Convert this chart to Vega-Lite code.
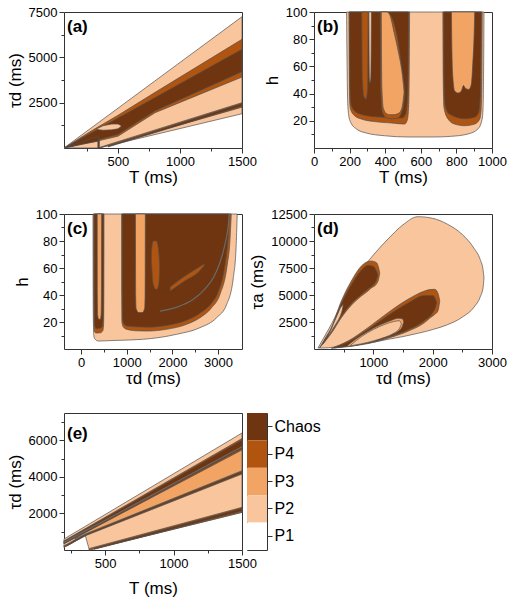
{
"$schema": "https://vega.github.io/schema/vega-lite/v6.json",
"padding": {"left": 5, "top": 5, "right": 5, "bottom": 3},
"config": {
 "font": "Liberation Sans",
 "view": {"stroke": "#333333", "strokeWidth": 1},
 "axis": {"labelFont": "Liberation Sans", "labelFontSize": 13, "labelColor": "#000000", "titleFont": "Liberation Sans", "titleFontSize": 17, "titleFontWeight": "normal", "titleColor": "#000000", "domain": false, "grid": false, "tickColor": "#333333", "labelFlush": false, "labelOverlap": false, "labelPadding": 2},
 "axisX": {"titlePadding": 1},
 "axisY": {"titlePadding": 4},
 "title": {"font": "Liberation Sans", "fontSize": 17, "fontWeight": "bold", "color": "#000000", "anchor": "start", "frame": "group", "offset": -30, "dx": 3}
},
"datasets": {
 "A": [
  {"r":"a01","c":"P2","x":65,"lo":0,"hi":0},{"r":"a01","c":"P2","x":345,"lo":0,"hi":1413},{"r":"a01","c":"P2","x":1500,"lo":1890,"hi":7240},
  {"r":"a02","c":"P4","x":65,"lo":0,"hi":0},{"r":"a02","c":"P4","x":300,"lo":330,"hi":1000},{"r":"a02","c":"P4","x":500,"lo":650,"hi":1800},{"r":"a02","c":"P4","x":800,"lo":1950,"hi":3070},{"r":"a02","c":"P4","x":1500,"lo":3915,"hi":5994},
  {"r":"a03","c":"Chaos","x":65,"lo":0,"hi":0},{"r":"a03","c":"Chaos","x":300,"lo":380,"hi":891},{"r":"a03","c":"Chaos","x":500,"lo":750,"hi":1650},{"r":"a03","c":"Chaos","x":800,"lo":2050,"hi":2788},{"r":"a03","c":"Chaos","x":1500,"lo":4209,"hi":5443},
  {"r":"a04","c":"P4","x":350,"lo":0,"hi":30},{"r":"a04","c":"P4","x":1500,"lo":2250,"hi":2500},
  {"r":"a05","c":"Chaos","x":420,"lo":60,"hi":110},{"r":"a05","c":"Chaos","x":1500,"lo":2310,"hi":2450},
  {"r":"a06","c":"P2","x":330,"lo":1020,"hi":1060},{"r":"a06","c":"P2","x":380,"lo":980,"hi":1230},{"r":"a06","c":"P2","x":450,"lo":1000,"hi":1320},{"r":"a06","c":"P2","x":500,"lo":1060,"hi":1320},{"r":"a06","c":"P2","x":525,"lo":1180,"hi":1240},
  {"r":"a07","c":"Chaos","x":110,"lo":60,"hi":110},{"r":"a07","c":"Chaos","x":200,"lo":200,"hi":330},{"r":"a07","c":"Chaos","x":300,"lo":330,"hi":560},{"r":"a07","c":"Chaos","x":345,"lo":380,"hi":640},
  {"r":"a08","c":"Chaos","x":338,"lo":0,"hi":420},{"r":"a08","c":"Chaos","x":350,"lo":0,"hi":420}
 ],
 "B": [
  {"r":"b01","c":"P2","x":183,"lo":100,"hi":100},{"r":"b01","c":"P2","x":186,"lo":60,"hi":100},{"r":"b01","c":"P2","x":189,"lo":35,"hi":100},{"r":"b01","c":"P2","x":195,"lo":24,"hi":100},{"r":"b01","c":"P2","x":206,"lo":18.9,"hi":100},{"r":"b01","c":"P2","x":238,"lo":14,"hi":100},{"r":"b01","c":"P2","x":294,"lo":11,"hi":100},{"r":"b01","c":"P2","x":397,"lo":9,"hi":100},{"r":"b01","c":"P2","x":528,"lo":8.1,"hi":100},{"r":"b01","c":"P2","x":678,"lo":8.1,"hi":100},{"r":"b01","c":"P2","x":772,"lo":8.6,"hi":100},{"r":"b01","c":"P2","x":865,"lo":10.3,"hi":100},{"r":"b01","c":"P2","x":921,"lo":14,"hi":100},{"r":"b01","c":"P2","x":944,"lo":21,"hi":100},{"r":"b01","c":"P2","x":950,"lo":30,"hi":100},{"r":"b01","c":"P2","x":953,"lo":60,"hi":100},{"r":"b01","c":"P2","x":955,"lo":100,"hi":100},
  {"r":"b02","c":"P4","x":196,"lo":100,"hi":100},{"r":"b02","c":"P4","x":198,"lo":60,"hi":100},{"r":"b02","c":"P4","x":200,"lo":35,"hi":100},{"r":"b02","c":"P4","x":205,"lo":28.7,"hi":100},{"r":"b02","c":"P4","x":228,"lo":23.8,"hi":100},{"r":"b02","c":"P4","x":266,"lo":21.3,"hi":100},{"r":"b02","c":"P4","x":341,"lo":19.4,"hi":100},{"r":"b02","c":"P4","x":434,"lo":18.4,"hi":100},{"r":"b02","c":"P4","x":509,"lo":17.6,"hi":100},{"r":"b02","c":"P4","x":525,"lo":21,"hi":100},{"r":"b02","c":"P4","x":533,"lo":35,"hi":100},{"r":"b02","c":"P4","x":537,"lo":100,"hi":100},
  {"r":"b03","c":"Chaos","x":200,"lo":100,"hi":100},{"r":"b03","c":"Chaos","x":202,"lo":45,"hi":100},{"r":"b03","c":"Chaos","x":208,"lo":32,"hi":100},{"r":"b03","c":"Chaos","x":230,"lo":27,"hi":100},{"r":"b03","c":"Chaos","x":270,"lo":24.5,"hi":100},{"r":"b03","c":"Chaos","x":341,"lo":23,"hi":100},{"r":"b03","c":"Chaos","x":434,"lo":22.3,"hi":100},{"r":"b03","c":"Chaos","x":495,"lo":22,"hi":100},{"r":"b03","c":"Chaos","x":515,"lo":25,"hi":100},{"r":"b03","c":"Chaos","x":527,"lo":40,"hi":100},{"r":"b03","c":"Chaos","x":531,"lo":100,"hi":100},
  {"r":"b04","c":"P4","x":268,"lo":100,"hi":100},{"r":"b04","c":"P4","x":272,"lo":50,"hi":100},{"r":"b04","c":"P4","x":280,"lo":38,"hi":100},{"r":"b04","c":"P4","x":292,"lo":36,"hi":100},{"r":"b04","c":"P4","x":302,"lo":45,"hi":100},{"r":"b04","c":"P4","x":304,"lo":100,"hi":100},
  {"r":"b05","c":"P2","x":308,"lo":100,"hi":100},{"r":"b05","c":"P2","x":311,"lo":52,"hi":100},{"r":"b05","c":"P2","x":315,"lo":48,"hi":100},{"r":"b05","c":"P2","x":319,"lo":52,"hi":100},{"r":"b05","c":"P2","x":323,"lo":100,"hi":100},
  {"r":"b06","c":"P4","x":372,"lo":100,"hi":100},{"r":"b06","c":"P4","x":376,"lo":40,"hi":100},{"r":"b06","c":"P4","x":385,"lo":26,"hi":100},{"r":"b06","c":"P4","x":410,"lo":22,"hi":100},{"r":"b06","c":"P4","x":440,"lo":21.5,"hi":95},{"r":"b06","c":"P4","x":470,"lo":22,"hi":80},{"r":"b06","c":"P4","x":492,"lo":26,"hi":60},{"r":"b06","c":"P4","x":505,"lo":33,"hi":48},{"r":"b06","c":"P4","x":510,"lo":40,"hi":42},
  {"r":"b07","c":"P3","x":378,"lo":100,"hi":100},{"r":"b07","c":"P3","x":381,"lo":45,"hi":100},{"r":"b07","c":"P3","x":390,"lo":29,"hi":100},{"r":"b07","c":"P3","x":410,"lo":25,"hi":100},{"r":"b07","c":"P3","x":425,"lo":24.5,"hi":98},{"r":"b07","c":"P3","x":450,"lo":24.5,"hi":85},{"r":"b07","c":"P3","x":475,"lo":25.5,"hi":70},{"r":"b07","c":"P3","x":493,"lo":29,"hi":57},{"r":"b07","c":"P3","x":502,"lo":36,"hi":47},{"r":"b07","c":"P3","x":506,"lo":41,"hi":41},
  {"r":"b08","c":"P4","x":724,"lo":100,"hi":100},{"r":"b08","c":"P4","x":726,"lo":50,"hi":100},{"r":"b08","c":"P4","x":730,"lo":30,"hi":100},{"r":"b08","c":"P4","x":753,"lo":21.3,"hi":100},{"r":"b08","c":"P4","x":790,"lo":17.6,"hi":100},{"r":"b08","c":"P4","x":846,"lo":16.4,"hi":100},{"r":"b08","c":"P4","x":903,"lo":17.6,"hi":100},{"r":"b08","c":"P4","x":931,"lo":21.3,"hi":100},{"r":"b08","c":"P4","x":940,"lo":30,"hi":100},{"r":"b08","c":"P4","x":943,"lo":50,"hi":100},{"r":"b08","c":"P4","x":945,"lo":100,"hi":100},
  {"r":"b09","c":"Chaos","x":729,"lo":100,"hi":100},{"r":"b09","c":"Chaos","x":731,"lo":45,"hi":100},{"r":"b09","c":"Chaos","x":737,"lo":31,"hi":100},{"r":"b09","c":"Chaos","x":760,"lo":25,"hi":100},{"r":"b09","c":"Chaos","x":846,"lo":21.5,"hi":100},{"r":"b09","c":"Chaos","x":900,"lo":22.5,"hi":100},{"r":"b09","c":"Chaos","x":925,"lo":26,"hi":100},{"r":"b09","c":"Chaos","x":935,"lo":40,"hi":100},{"r":"b09","c":"Chaos","x":939,"lo":100,"hi":100},
  {"r":"b10","c":"P3","x":772,"lo":100,"hi":100},{"r":"b10","c":"P3","x":775,"lo":70,"hi":100},{"r":"b10","c":"P3","x":780,"lo":52,"hi":100},{"r":"b10","c":"P3","x":790,"lo":42,"hi":100},{"r":"b10","c":"P3","x":810,"lo":40.5,"hi":100},{"r":"b10","c":"P3","x":828,"lo":42,"hi":100},{"r":"b10","c":"P3","x":840,"lo":46,"hi":100},{"r":"b10","c":"P3","x":850,"lo":44,"hi":100},{"r":"b10","c":"P3","x":870,"lo":43,"hi":100},{"r":"b10","c":"P3","x":884,"lo":47,"hi":100},{"r":"b10","c":"P3","x":892,"lo":62,"hi":100},{"r":"b10","c":"P3","x":900,"lo":85,"hi":100},{"r":"b10","c":"P3","x":903,"lo":100,"hi":100}
 ],
 "C": [
  {"r":"c01","c":"P2","x":260,"lo":100,"hi":100},{"r":"c01","c":"P2","x":262,"lo":60,"hi":100},{"r":"c01","c":"P2","x":265,"lo":30,"hi":100},{"r":"c01","c":"P2","x":270,"lo":18,"hi":100},{"r":"c01","c":"P2","x":278,"lo":10,"hi":100},{"r":"c01","c":"P2","x":300,"lo":7.5,"hi":100},{"r":"c01","c":"P2","x":377,"lo":5.9,"hi":100},{"r":"c01","c":"P2","x":700,"lo":6.3,"hi":100},{"r":"c01","c":"P2","x":1363,"lo":7.2,"hi":100},{"r":"c01","c":"P2","x":2094,"lo":10.9,"hi":100},{"r":"c01","c":"P2","x":2605,"lo":15.8,"hi":100},{"r":"c01","c":"P2","x":2970,"lo":23.2,"hi":100},{"r":"c01","c":"P2","x":3189,"lo":33,"hi":100},{"r":"c01","c":"P2","x":3335,"lo":52.8,"hi":100},{"r":"c01","c":"P2","x":3395,"lo":75,"hi":100},{"r":"c01","c":"P2","x":3420,"lo":100,"hi":100},
  {"r":"c02","c":"P4","x":275,"lo":100,"hi":100},{"r":"c02","c":"P4","x":277,"lo":40,"hi":100},{"r":"c02","c":"P4","x":281,"lo":18,"hi":100},{"r":"c02","c":"P4","x":292,"lo":13,"hi":100},{"r":"c02","c":"P4","x":330,"lo":11.8,"hi":100},{"r":"c02","c":"P4","x":420,"lo":12,"hi":100},{"r":"c02","c":"P4","x":475,"lo":13.5,"hi":100},{"r":"c02","c":"P4","x":492,"lo":18,"hi":100},{"r":"c02","c":"P4","x":498,"lo":40,"hi":100},{"r":"c02","c":"P4","x":501,"lo":100,"hi":100},
  {"r":"c03","c":"Chaos","x":286,"lo":100,"hi":100},{"r":"c03","c":"Chaos","x":288,"lo":35,"hi":100},{"r":"c03","c":"Chaos","x":295,"lo":18,"hi":100},{"r":"c03","c":"Chaos","x":330,"lo":15,"hi":100},{"r":"c03","c":"Chaos","x":430,"lo":15.5,"hi":100},{"r":"c03","c":"Chaos","x":468,"lo":17,"hi":100},{"r":"c03","c":"Chaos","x":485,"lo":26,"hi":100},{"r":"c03","c":"Chaos","x":490,"lo":100,"hi":100},
  {"r":"c04","c":"P3","x":352,"lo":100,"hi":100},{"r":"c04","c":"P3","x":355,"lo":40,"hi":100},{"r":"c04","c":"P3","x":362,"lo":25,"hi":100},{"r":"c04","c":"P3","x":385,"lo":22,"hi":100},{"r":"c04","c":"P3","x":420,"lo":22,"hi":100},{"r":"c04","c":"P3","x":438,"lo":25,"hi":100},{"r":"c04","c":"P3","x":446,"lo":40,"hi":100},{"r":"c04","c":"P3","x":450,"lo":100,"hi":100},
  {"r":"c05","c":"P4","x":888,"lo":100,"hi":100},{"r":"c05","c":"P4","x":890,"lo":40,"hi":100},{"r":"c05","c":"P4","x":895,"lo":20,"hi":100},{"r":"c05","c":"P4","x":920,"lo":16.5,"hi":100},{"r":"c05","c":"P4","x":998,"lo":14.6,"hi":100},{"r":"c05","c":"P4","x":1200,"lo":13.5,"hi":100},{"r":"c05","c":"P4","x":1436,"lo":13.3,"hi":100},{"r":"c05","c":"P4","x":1874,"lo":14.6,"hi":100},{"r":"c05","c":"P4","x":2313,"lo":18.3,"hi":100},{"r":"c05","c":"P4","x":2605,"lo":23.2,"hi":100},{"r":"c05","c":"P4","x":2860,"lo":30.6,"hi":100},{"r":"c05","c":"P4","x":3043,"lo":40.5,"hi":100},{"r":"c05","c":"P4","x":3200,"lo":62,"hi":100},{"r":"c05","c":"P4","x":3260,"lo":80,"hi":100},{"r":"c05","c":"P4","x":3290,"lo":100,"hi":100},
  {"r":"c06","c":"Chaos","x":900,"lo":100,"hi":100},{"r":"c06","c":"Chaos","x":903,"lo":40,"hi":100},{"r":"c06","c":"Chaos","x":910,"lo":22,"hi":100},{"r":"c06","c":"Chaos","x":940,"lo":18.5,"hi":100},{"r":"c06","c":"Chaos","x":1000,"lo":17,"hi":100},{"r":"c06","c":"Chaos","x":1436,"lo":16.2,"hi":100},{"r":"c06","c":"Chaos","x":1874,"lo":17.5,"hi":100},{"r":"c06","c":"Chaos","x":2313,"lo":21.3,"hi":100},{"r":"c06","c":"Chaos","x":2605,"lo":26.5,"hi":100},{"r":"c06","c":"Chaos","x":2860,"lo":34,"hi":100},{"r":"c06","c":"Chaos","x":3000,"lo":42,"hi":100},{"r":"c06","c":"Chaos","x":3150,"lo":62,"hi":100},{"r":"c06","c":"Chaos","x":3220,"lo":82,"hi":100},{"r":"c06","c":"Chaos","x":3255,"lo":100,"hi":100},
  {"r":"c07","c":"P3","x":1190,"lo":100,"hi":100},{"r":"c07","c":"P3","x":1195,"lo":40,"hi":100},{"r":"c07","c":"P3","x":1205,"lo":30,"hi":100},{"r":"c07","c":"P3","x":1260,"lo":27,"hi":100},{"r":"c07","c":"P3","x":1340,"lo":27,"hi":100},{"r":"c07","c":"P3","x":1392,"lo":30,"hi":100},{"r":"c07","c":"P3","x":1402,"lo":40,"hi":100},{"r":"c07","c":"P3","x":1407,"lo":100,"hi":100},
  {"r":"c08","c":"P4","x":1540,"lo":65,"hi":72},{"r":"c08","c":"P4","x":1580,"lo":48,"hi":80},{"r":"c08","c":"P4","x":1650,"lo":44,"hi":80},{"r":"c08","c":"P4","x":1700,"lo":48,"hi":72},{"r":"c08","c":"P4","x":1720,"lo":58,"hi":62},
  {"r":"c09","c":"P4","x":1950,"lo":43,"hi":46},{"r":"c09","c":"P4","x":2250,"lo":50,"hi":53.5},{"r":"c09","c":"P4","x":2600,"lo":58,"hi":61},{"r":"c09","c":"P4","x":2700,"lo":62,"hi":63}
 ],
 "CL": [
  {"r":"l1","x":1730,"lo":28},{"r":"l1","x":2100,"lo":31},{"r":"l1","x":2459,"lo":36.8},{"r":"l1","x":2700,"lo":44},{"r":"l1","x":2897,"lo":52.8},{"r":"l1","x":3020,"lo":62},{"r":"l1","x":3116,"lo":72.6},{"r":"l1","x":3180,"lo":82},{"r":"l1","x":3226,"lo":92},{"r":"l1","x":3245,"lo":100}
 ],
 "D": [
  {"r":"d01","c":"P2","x":67,"lo":93,"hi":93},{"r":"d01","c":"P2","x":200,"lo":100,"hi":1383},{"r":"d01","c":"P2","x":300,"lo":150,"hi":2370},{"r":"d01","c":"P2","x":500,"lo":200,"hi":4600},{"r":"d01","c":"P2","x":750,"lo":400,"hi":6950},{"r":"d01","c":"P2","x":1000,"lo":620,"hi":8700},{"r":"d01","c":"P2","x":1250,"lo":900,"hi":10200},{"r":"d01","c":"P2","x":1500,"lo":1150,"hi":11500},{"r":"d01","c":"P2","x":1750,"lo":1450,"hi":12250},{"r":"d01","c":"P2","x":2000,"lo":1800,"hi":12100},{"r":"d01","c":"P2","x":2250,"lo":2250,"hi":11550},{"r":"d01","c":"P2","x":2500,"lo":2950,"hi":10600},{"r":"d01","c":"P2","x":2700,"lo":3900,"hi":9300},{"r":"d01","c":"P2","x":2800,"lo":4800,"hi":8300},{"r":"d01","c":"P2","x":2850,"lo":5700,"hi":7300},{"r":"d01","c":"P2","x":2865,"lo":6600,"hi":6600},
  {"r":"d02","c":"P4","x":95,"lo":100,"hi":100},{"r":"d02","c":"P4","x":200,"lo":800,"hi":1100},{"r":"d02","c":"P4","x":292,"lo":1450,"hi":1975},{"r":"d02","c":"P4","x":461,"lo":2901,"hi":4444},{"r":"d02","c":"P4","x":629,"lo":4050,"hi":6296},{"r":"d02","c":"P4","x":798,"lo":4900,"hi":7685},{"r":"d02","c":"P4","x":910,"lo":5370,"hi":8100},{"r":"d02","c":"P4","x":966,"lo":5650,"hi":8148},{"r":"d02","c":"P4","x":1050,"lo":6000,"hi":8000},{"r":"d02","c":"P4","x":1090,"lo":6500,"hi":7500},{"r":"d02","c":"P4","x":1107,"lo":7000,"hi":7050},
  {"r":"d03","c":"Chaos","x":150,"lo":450,"hi":550},{"r":"d03","c":"Chaos","x":292,"lo":1600,"hi":1850},{"r":"d03","c":"Chaos","x":461,"lo":3050,"hi":4200},{"r":"d03","c":"Chaos","x":629,"lo":4200,"hi":5950},{"r":"d03","c":"Chaos","x":798,"lo":5050,"hi":7300},{"r":"d03","c":"Chaos","x":910,"lo":5550,"hi":7750},{"r":"d03","c":"Chaos","x":1000,"lo":5950,"hi":7650},{"r":"d03","c":"Chaos","x":1050,"lo":6350,"hi":7250},{"r":"d03","c":"Chaos","x":1075,"lo":6800,"hi":6900},
  {"r":"d04","c":"P2","x":235,"lo":1180,"hi":1230},{"r":"d04","c":"P2","x":300,"lo":1700,"hi":1950},{"r":"d04","c":"P2","x":348,"lo":2130,"hi":2590},{"r":"d04","c":"P2","x":400,"lo":2600,"hi":3250},{"r":"d04","c":"P2","x":450,"lo":3150,"hi":3850},{"r":"d04","c":"P2","x":480,"lo":3700,"hi":4050},{"r":"d04","c":"P2","x":492,"lo":4100,"hi":4120},
  {"r":"d05","c":"P4","x":292,"lo":60,"hi":80},{"r":"d05","c":"P4","x":573,"lo":220,"hi":741},{"r":"d05","c":"P4","x":910,"lo":500,"hi":1975},{"r":"d05","c":"P4","x":1247,"lo":1000,"hi":3364},{"r":"d05","c":"P4","x":1584,"lo":1650,"hi":4599},{"r":"d05","c":"P4","x":1865,"lo":2450,"hi":5370},{"r":"d05","c":"P4","x":1950,"lo":2850,"hi":5500},{"r":"d05","c":"P4","x":2034,"lo":3200,"hi":5525},{"r":"d05","c":"P4","x":2090,"lo":3550,"hi":5150},{"r":"d05","c":"P4","x":2118,"lo":4400,"hi":4500},
  {"r":"d06","c":"Chaos","x":330,"lo":90,"hi":130},{"r":"d06","c":"Chaos","x":573,"lo":280,"hi":650},{"r":"d06","c":"Chaos","x":910,"lo":580,"hi":1800},{"r":"d06","c":"Chaos","x":1247,"lo":1100,"hi":3100},{"r":"d06","c":"Chaos","x":1584,"lo":1780,"hi":4250},{"r":"d06","c":"Chaos","x":1865,"lo":2650,"hi":4950},{"r":"d06","c":"Chaos","x":2000,"lo":3350,"hi":4950},{"r":"d06","c":"Chaos","x":2055,"lo":4000,"hi":4500},{"r":"d06","c":"Chaos","x":2065,"lo":4250,"hi":4300},
  {"r":"d07","c":"P3","x":560,"lo":230,"hi":300},{"r":"d07","c":"P3","x":700,"lo":330,"hi":900},{"r":"d07","c":"P3","x":900,"lo":600,"hi":1600},{"r":"d07","c":"P3","x":1100,"lo":950,"hi":2200},{"r":"d07","c":"P3","x":1300,"lo":1330,"hi":2650},{"r":"d07","c":"P3","x":1420,"lo":1650,"hi":2850},{"r":"d07","c":"P3","x":1490,"lo":2100,"hi":2800},{"r":"d07","c":"P3","x":1510,"lo":2450,"hi":2550},
  {"r":"d08","c":"P2","x":620,"lo":300,"hi":360},{"r":"d08","c":"P2","x":800,"lo":480,"hi":1150},{"r":"d08","c":"P2","x":1000,"lo":750,"hi":1800},{"r":"d08","c":"P2","x":1200,"lo":1100,"hi":2300},{"r":"d08","c":"P2","x":1350,"lo":1480,"hi":2550},{"r":"d08","c":"P2","x":1440,"lo":1900,"hi":2620},{"r":"d08","c":"P2","x":1470,"lo":2250,"hi":2350}
 ],
 "E": [
  {"r":"e01","c":"P2","x":200,"lo":146,"hi":602},{"r":"e01","c":"P2","x":356,"lo":780,"hi":1298},{"r":"e01","c":"P2","x":385,"lo":0,"hi":1428},{"r":"e01","c":"P2","x":1500,"lo":2062,"hi":6405},
  {"r":"e02","c":"P4","x":385,"lo":0,"hi":80},{"r":"e02","c":"P4","x":1500,"lo":2062,"hi":2336},
  {"r":"e03","c":"Chaos","x":420,"lo":40,"hi":90},{"r":"e03","c":"Chaos","x":1500,"lo":2130,"hi":2280},
  {"r":"e04","c":"P4","x":200,"lo":146,"hi":230},{"r":"e04","c":"P4","x":356,"lo":780,"hi":880},{"r":"e04","c":"P4","x":1500,"lo":4160,"hi":4343},
  {"r":"e05","c":"Chaos","x":220,"lo":215,"hi":260},{"r":"e05","c":"Chaos","x":356,"lo":810,"hi":860},{"r":"e05","c":"Chaos","x":1500,"lo":4200,"hi":4300},
  {"r":"e06","c":"P3","x":280,"lo":600,"hi":620},{"r":"e06","c":"P3","x":356,"lo":880,"hi":972},{"r":"e06","c":"P3","x":1500,"lo":4343,"hi":5530},
  {"r":"e07","c":"P4","x":200,"lo":340,"hi":500},{"r":"e07","c":"P4","x":1500,"lo":5480,"hi":6100},
  {"r":"e08","c":"Chaos","x":200,"lo":360,"hi":470},{"r":"e08","c":"Chaos","x":1500,"lo":5560,"hi":6020}
 ],
 "EL": [
  {"r":"l1","x":200,"lo":420},{"r":"l1","x":1500,"lo":5650}
 ],
 "LEG": [
  {"c":"Chaos"},{"c":"P4"},{"c":"P3"},{"c":"P2"},{"c":"P1"}
 ]
},
"spacing": 25,
"vconcat": [
 {"spacing": 21, "vconcat": [
 {"hconcat": [
  {"width": 178, "height": 136, "title": {"text": "(a)"}, "data": {"name": "A"},
   "mark": {"type": "area", "stroke": "#505050", "strokeWidth": 0.7, "opacity": 1, "fillOpacity": 1, "interpolate": "linear"},
   "encoding": {
    "x": {"field": "x", "type": "quantitative", "scale": {"domain": [65, 1500], "nice": false, "zero": false}, "axis": {"title": "T (ms)", "values": [250, 500, 750, 1000, 1250, 1500], "format": "d", "labelExpr": "datum.value % 500 == 0 ? datum.label : ''", "tickSize": {"condition": {"test": "datum.value % 500 == 0", "value": 5}, "value": 3}}},
    "y": {"field": "lo", "type": "quantitative", "stack": null, "scale": {"domain": [0, 7500], "nice": false, "zero": false}, "axis": {"title": "τd (ms)", "values": [1250, 2500, 3750, 5000, 6250, 7500], "format": "d", "labelExpr": "datum.value % 2500 == 0 ? datum.label : ''", "tickSize": {"condition": {"test": "datum.value % 2500 == 0", "value": 5}, "value": 3}}},
    "y2": {"field": "hi"},
    "color": {"field": "c", "type": "nominal", "scale": {"domain": ["Chaos", "P4", "P3", "P2", "P1"], "range": ["#6E3510", "#B0540F", "#F2A465", "#F8C59D", "#FFFFFF"]}, "legend": null},
    "detail": {"field": "r", "type": "nominal"}
   }},
  {"width": 178, "height": 136, "title": {"text": "(b)"}, "data": {"name": "B"},
   "mark": {"type": "area", "stroke": "#505050", "strokeWidth": 0.7, "opacity": 1, "fillOpacity": 1, "interpolate": "monotone"},
   "encoding": {
    "x": {"field": "x", "type": "quantitative", "scale": {"domain": [0, 1000], "nice": false, "zero": false}, "axis": {"title": "T (ms)", "values": [0, 100, 200, 300, 400, 500, 600, 700, 800, 900, 1000], "format": "d", "labelExpr": "datum.value % 200 == 0 ? datum.label : ''", "tickSize": {"condition": {"test": "datum.value % 200 == 0", "value": 5}, "value": 3}}},
    "y": {"field": "lo", "type": "quantitative", "stack": null, "scale": {"domain": [0, 100], "nice": false, "zero": false}, "axis": {"title": "h", "values": [10, 20, 30, 40, 50, 60, 70, 80, 90, 100], "format": "d", "labelExpr": "datum.value % 20 == 0 ? datum.label : ''", "tickSize": {"condition": {"test": "datum.value % 20 == 0", "value": 5}, "value": 3}}},
    "y2": {"field": "hi"},
    "color": {"field": "c", "type": "nominal", "scale": {"domain": ["Chaos", "P4", "P3", "P2", "P1"], "range": ["#6E3510", "#B0540F", "#F2A465", "#F8C59D", "#FFFFFF"]}, "legend": null},
    "detail": {"field": "r", "type": "nominal"}
   }}
 ], "spacing": 72, "bounds": "flush"},
 {"hconcat": [
  {"width": 178, "height": 135, "title": {"text": "(c)"},
   "encoding": {
    "x": {"field": "x", "type": "quantitative", "scale": {"domain": [-375, 3525], "nice": false, "zero": false}, "axis": {"title": "τd (ms)", "values": [0, 500, 1000, 1500, 2000, 2500, 3000], "format": "d", "labelExpr": "datum.value % 1000 == 0 ? datum.label : ''", "tickSize": {"condition": {"test": "datum.value % 1000 == 0", "value": 5}, "value": 3}}},
    "y": {"field": "lo", "type": "quantitative", "stack": null, "scale": {"domain": [0, 100], "nice": false, "zero": false}, "axis": {"title": "h", "values": [10, 20, 30, 40, 50, 60, 70, 80, 90, 100], "format": "d", "labelExpr": "datum.value % 20 == 0 ? datum.label : ''", "tickSize": {"condition": {"test": "datum.value % 20 == 0", "value": 5}, "value": 3}}}
   },
   "layer": [
    {"data": {"name": "C"},
     "mark": {"type": "area", "stroke": "#505050", "strokeWidth": 0.7, "opacity": 1, "fillOpacity": 1, "interpolate": "monotone"},
     "encoding": {
      "y2": {"field": "hi"},
      "color": {"field": "c", "type": "nominal", "scale": {"domain": ["Chaos", "P4", "P3", "P2", "P1"], "range": ["#6E3510", "#B0540F", "#F2A465", "#F8C59D", "#FFFFFF"]}, "legend": null},
      "detail": {"field": "r", "type": "nominal"}
     }},
    {"data": {"name": "CL"},
     "mark": {"type": "line", "stroke": "#6a6a6a", "strokeWidth": 1.2, "interpolate": "monotone"},
     "encoding": {
      "detail": {"field": "r", "type": "nominal"}
     }}
   ]},
  {"width": 178, "height": 135, "title": {"text": "(d)"}, "data": {"name": "D"},
   "mark": {"type": "area", "stroke": "#505050", "strokeWidth": 0.7, "opacity": 1, "fillOpacity": 1, "interpolate": "monotone"},
   "encoding": {
    "x": {"field": "x", "type": "quantitative", "scale": {"domain": [0, 3000], "nice": false, "zero": false}, "axis": {"title": "τd (ms)", "values": [500, 1000, 1500, 2000, 2500, 3000], "format": "d", "labelExpr": "datum.value % 1000 == 0 ? datum.label : ''", "tickSize": {"condition": {"test": "datum.value % 1000 == 0", "value": 5}, "value": 3}}},
    "y": {"field": "lo", "type": "quantitative", "stack": null, "scale": {"domain": [0, 12500], "nice": false, "zero": false}, "axis": {"title": "τa (ms)", "values": [1250, 2500, 3750, 5000, 6250, 7500, 8750, 10000, 11250, 12500], "format": "d", "labelExpr": "datum.value % 2500 == 0 ? datum.label : ''", "tickSize": {"condition": {"test": "datum.value % 2500 == 0", "value": 5}, "value": 3}}},
    "y2": {"field": "hi"},
    "color": {"field": "c", "type": "nominal", "scale": {"domain": ["Chaos", "P4", "P3", "P2", "P1"], "range": ["#6E3510", "#B0540F", "#F2A465", "#F8C59D", "#FFFFFF"]}, "legend": null},
    "detail": {"field": "r", "type": "nominal"}
   }}
 ], "spacing": 72, "bounds": "flush"}
 ]},
 {"hconcat": [
  {"width": 178, "height": 137, "title": {"text": "(e)"},
   "encoding": {
    "x": {"field": "x", "type": "quantitative", "scale": {"domain": [200, 1500], "nice": false, "zero": false}, "axis": {"title": "T (ms)", "titlePadding": 10, "values": [250, 500, 750, 1000, 1250, 1500], "format": "d", "labelExpr": "datum.value % 500 == 0 ? datum.label : ''", "tickSize": {"condition": {"test": "datum.value % 500 == 0", "value": 5}, "value": 3}}},
    "y": {"field": "lo", "type": "quantitative", "stack": null, "scale": {"domain": [0, 7500], "nice": false, "zero": false}, "axis": {"title": "τd (ms)", "values": [1000, 2000, 3000, 4000, 5000, 6000, 7000], "format": "d", "labelExpr": "datum.value % 2000 == 0 ? datum.label : ''", "tickSize": {"condition": {"test": "datum.value % 2000 == 0", "value": 5}, "value": 3}}}
   },
   "layer": [
    {"data": {"name": "E"},
     "mark": {"type": "area", "stroke": "#505050", "strokeWidth": 0.7, "opacity": 1, "fillOpacity": 1, "interpolate": "linear"},
     "encoding": {
      "y2": {"field": "hi"},
      "color": {"field": "c", "type": "nominal", "scale": {"domain": ["Chaos", "P4", "P3", "P2", "P1"], "range": ["#6E3510", "#B0540F", "#F2A465", "#F8C59D", "#FFFFFF"]}, "legend": null},
      "detail": {"field": "r", "type": "nominal"}
     }},
    {"data": {"name": "EL"},
     "mark": {"type": "line", "stroke": "#6a6a6a", "strokeWidth": 1.2},
     "encoding": {
      "detail": {"field": "r", "type": "nominal"}
     }}
   ]},
  {"width": 20, "height": 137, "data": {"name": "LEG"},
   "mark": {"type": "rect"},
   "encoding": {
    "y": {"field": "c", "type": "nominal", "sort": ["Chaos", "P4", "P3", "P2", "P1"], "scale": {"paddingInner": 0, "paddingOuter": 0}, "axis": {"orient": "right", "title": null, "labelFontSize": 16, "tickSize": 5, "labelPadding": 2}},
    "fill": {"field": "c", "type": "nominal", "scale": {"domain": ["Chaos", "P4", "P3", "P2", "P1"], "range": ["#6E3510", "#B0540F", "#F2A465", "#F8C59D", "#FFFFFF"]}, "legend": null}
   }}
 ], "spacing": 5, "bounds": "flush"}
]
}
